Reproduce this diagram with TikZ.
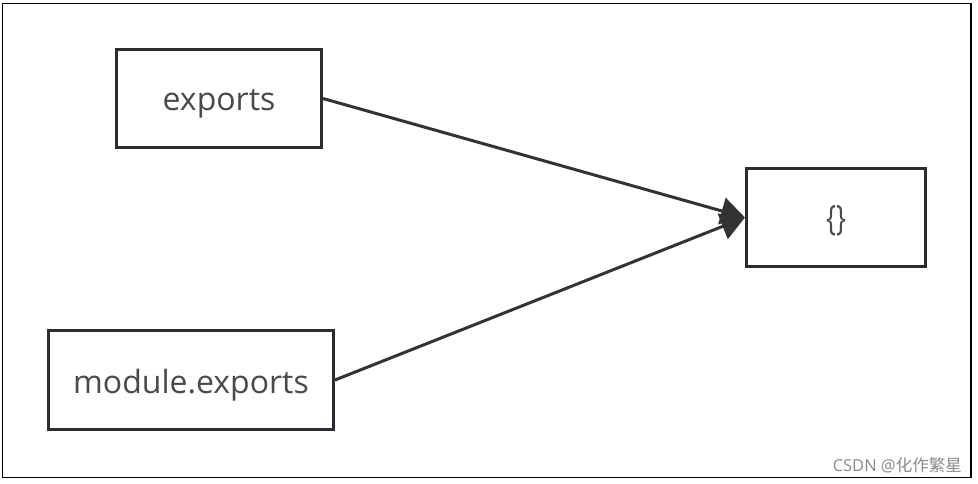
\documentclass[tikz,border=0pt]{standalone}
\usepackage{fontspec}
\setmainfont{Open Sans}
\newfontfamily\cjk{Noto Sans CJK SC}
\usetikzlibrary{arrows.meta}
\definecolor{boxline}{HTML}{2A2E33}
\definecolor{txt}{HTML}{4A4A4A}
\definecolor{arr}{HTML}{333333}
\definecolor{wm}{HTML}{8A8A8A}
\newcommand{\dropby}[2]{\raisebox{-#1}[\height][\depth]{#2}}
\begin{document}
\begin{tikzpicture}[x=1pt,y=-1pt,
  box/.style={draw=boxline, line width=3pt, fill=white, inner sep=0pt, text=txt, font=\fontsize{32}{36}\selectfont},
  conn/.style={draw=arr, line width=3pt, -{Triangle[length=24pt,width=27pt]}}]
\useasboundingbox (0,0) rectangle (978,483);
\draw[line width=1.5pt, black] (2.5,3.5) rectangle (971,477.5);
\node[box, minimum width=205pt, minimum height=98pt] (ex) at (219,98.5) {\dropby{5pt}{exports}};
\node[box, minimum width=285pt, minimum height=99pt] (mex) at (191,380) {\dropby{5pt}{module.exports}};
\node[box, minimum width=179pt, minimum height=98pt, font=\fontsize{35}{40}\selectfont\addfontfeature{FakeStretch=0.75}] (obj) at (836,217.5) {\dropby{3pt}{\{\}}};
\draw[conn] (ex.east) -- (obj.west);
\draw[conn] (mex.east) -- (obj.west);
\node[anchor=south east, inner sep=0pt, text=wm, font=\fontsize{16.5}{19}\selectfont] (wmk) at (962,473) {CSDN @{\cjk 化作繁星}};
\end{tikzpicture}
\end{document}
